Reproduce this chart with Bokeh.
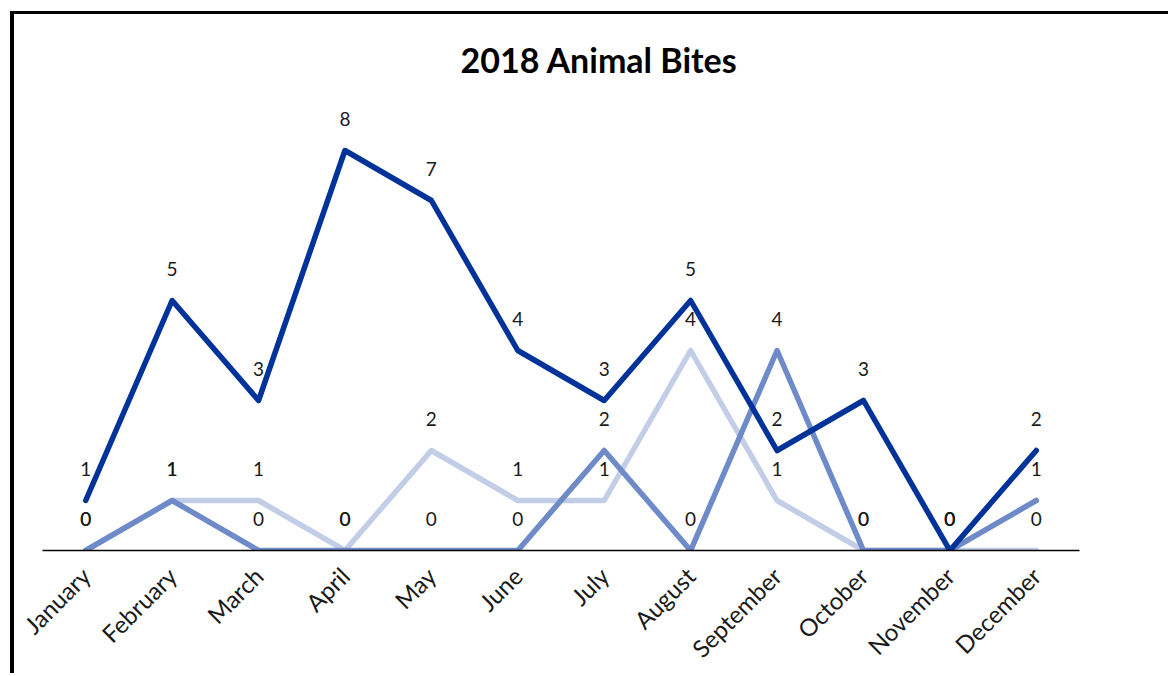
import math
from bokeh.plotting import figure
from bokeh.models import ColumnDataSource, LabelSet, FactorRange, Range1d
from bokeh.embed import file_html
from bokeh.resources import INLINE
from bokeh.core.properties import value

months = ["January", "February", "March", "April", "May", "June", "July",
          "August", "September", "October", "November", "December"]
series_dark = [1, 5, 3, 8, 7, 4, 3, 5, 2, 3, 0, 2]
series_medium = [0, 1, 0, 0, 0, 0, 2, 0, 4, 0, 0, 1]
series_light = [0, 1, 1, 0, 2, 1, 1, 4, 1, 0, 0, 0]

FONT = "Lato"
LABEL_COLOR = "#1a1a1a"

src = ColumnDataSource(dict(
    month=months,
    dark=series_dark, medium=series_medium, light=series_light,
    dark_lbl=[str(v) for v in series_dark],
    medium_lbl=[str(v) for v in series_medium],
    light_lbl=[str(v) for v in series_light],
))

p = figure(x_range=FactorRange(factors=months), y_range=Range1d(0, 9),
           width=1158, height=662, output_backend="svg", toolbar_location=None,
           min_border_left=28, min_border_right=93, min_border_top=86,
           min_border_bottom=126)
p.margin = (11, 0, 0, 10)
p.styles = {"border-left": "4px solid black", "border-top": "3px solid black"}

p.title.text = "2018 Animal Bites"
p.title.text_font = FONT
p.title.text_font_style = "bold"
p.title.text_font_size = "34px"
p.title.text_color = "black"
p.title.align = "left"
p.title.offset = 418
p.title.standoff = 42

for col, color in (("light", "#c2cee8"), ("medium", "#6e8ac8"), ("dark", "#00339a")):
    p.line(x="month", y=col, source=src, line_width=5.5, line_color=color,
           line_cap="round", line_join="round")

for col in ("dark", "medium", "light"):
    p.add_layout(LabelSet(x="month", y=col, text=col + "_lbl", source=src,
                          y_offset=32, text_align="center", text_baseline="middle",
                          text_font=value(FONT), text_font_size="19px",
                          text_color=LABEL_COLOR))

p.xaxis.axis_line_color = "black"
p.xaxis.axis_line_width = 1.5
p.xaxis.major_tick_line_color = None
p.xaxis.minor_tick_line_color = None
p.xaxis.major_label_orientation = math.pi / 4
p.xaxis.major_label_text_font = FONT
p.xaxis.major_label_text_font_size = "24px"
p.xaxis.major_label_text_color = LABEL_COLOR
p.xaxis.major_label_standoff = 15
p.yaxis.visible = False
p.grid.visible = False
p.outline_line_color = None
p.background_fill_color = "white"
p.border_fill_color = "white"

open("out.html", "w").write(file_html(p, INLINE))
